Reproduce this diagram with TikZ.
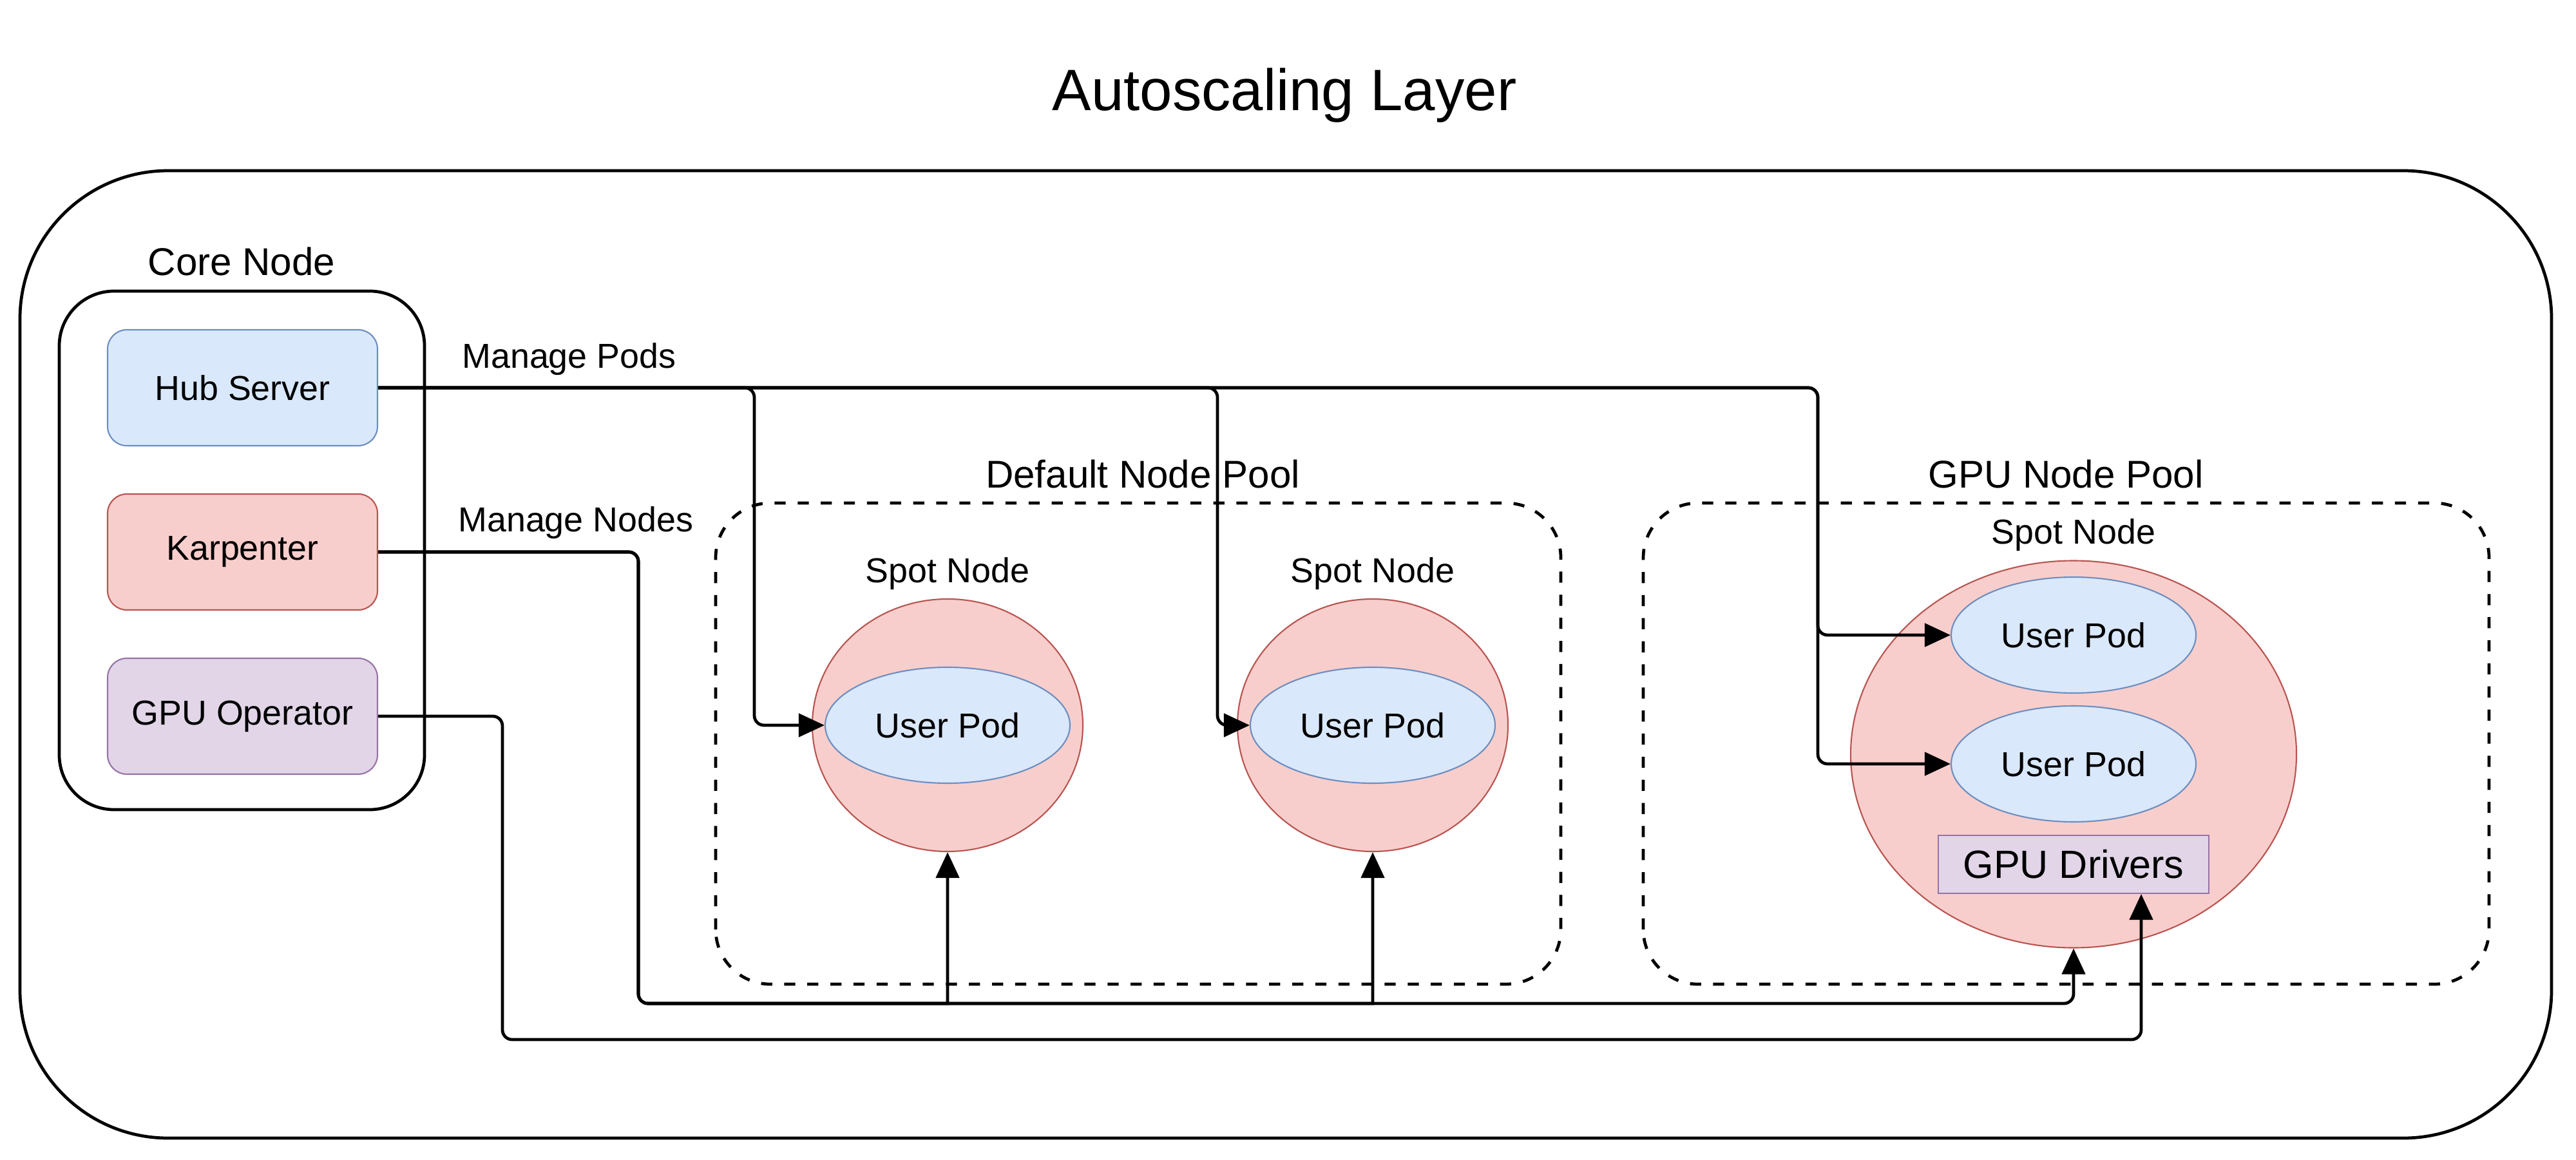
\documentclass[tikz,border=0pt]{standalone}
\usepackage{fontspec}
\setmainfont{Liberation Sans}
\usetikzlibrary{shapes.geometric,arrows.meta}

\definecolor{podfill}{HTML}{DAE8FC}
\definecolor{podline}{HTML}{6C8EBF}
\definecolor{spotfill}{HTML}{F8CECC}
\definecolor{spotline}{HTML}{B85450}
\definecolor{gpufill}{HTML}{E1D5E7}
\definecolor{gpuline}{HTML}{9673A6}

\begin{document}
\begin{tikzpicture}[
    >={Triangle[length=0.4cm,width=0.36cm]},
    every node/.style={font=\fontsize{15.3}{18}\selectfont},
    biglbl/.style={font=\fontsize{17.1}{20}\selectfont},
    comp/.style={draw, rounded corners=0.3cm, line width=0.6pt, minimum width=4.19cm, minimum height=1.8cm},
    spot/.style={ellipse, draw=spotline, fill=spotfill, line width=0.6pt, inner sep=0pt},
    pod/.style={ellipse, draw=podline, fill=podfill, line width=0.6pt, inner sep=0pt, minimum width=3.8cm, minimum height=1.8cm},
    pool/.style={draw, dash pattern=on 4.9pt off 5.3pt, line width=1.35pt, rounded corners=0.85cm},
    link/.style={->, line width=1.35pt, rounded corners=0.15cm}
  ]
    \useasboundingbox (0,0) rectangle (39.99,18);

    % Title and outer frame
    \node (title) at (19.94,16.52) {\fontsize{25.8}{30}\selectfont Autoscaling Layer};
    \draw[line width=1.35pt, rounded corners=2.3cm] (0.31,0.33) rectangle (39.61,15.35);

    % Core Node
    \node[biglbl] (corelbl) at (3.75,13.94) {Core Node};
    \draw[line width=1.35pt, rounded corners=0.85cm] (0.92,5.43) rectangle (6.59,13.48);
    \node[comp, draw=podline, fill=podfill] (hub) at (3.765,11.98) {Hub Server};
    \node[comp, draw=spotline, fill=spotfill] (karp) at (3.765,9.43) {Karpenter};
    \node[comp, draw=gpuline, fill=gpufill] (gpuop) at (3.765,6.88) {GPU Operator};

    % Default Node Pool
    \node[biglbl] (defaultlbl) at (17.74,10.64) {Default Node Pool};
    \draw[pool] (11.11,2.72) rectangle (24.23,10.19);
    \node (spotlbl1) at (14.71,9.09) {Spot Node};
    \node[spot, minimum width=4.2cm, minimum height=3.92cm] (spot1) at (14.71,6.74) {};
    \node[pod] (pod1) at (14.71,6.74) {User Pod};
    \node (spotlbl2) at (21.31,9.09) {Spot Node};
    \node[spot, minimum width=4.2cm, minimum height=3.92cm] (spot2) at (21.31,6.74) {};
    \node[pod] (pod2) at (21.31,6.74) {User Pod};

    % GPU Node Pool
    \node[biglbl] (gpulbl) at (32.07,10.64) {GPU Node Pool};
    \draw[pool] (25.51,2.72) rectangle (38.64,10.19);
    \node (spotlbl3) at (32.19,9.69) {Spot Node};
    \node[spot, minimum width=6.92cm, minimum height=6.01cm] (spot3) at (32.19,6.29) {};
    \node[pod] (pod3) at (32.19,8.14) {User Pod};
    \node[pod] (pod4) at (32.19,6.14) {User Pod};
    \node[draw=gpuline, fill=gpufill, line width=0.6pt, minimum width=4.2cm, minimum height=0.9cm,
          font=\fontsize{17.4}{20}\selectfont] (drivers) at (32.19,4.58) {GPU Drivers};

    % Manage Pods
    \node[anchor=west] (podslbl) at (7.05,12.42) {Manage Pods};
    \draw[link] (hub.east) -| (11.71,9) |- (pod1.west);
    \draw[link] (hub.east) -| (18.90,9) |- (pod2.west);
    \draw[link] (hub.east) -| (28.22,9) |- (pod3.west);
    \draw[link] (hub.east) -| (28.22,9) |- (pod4.west);

    % Manage Nodes
    \node[anchor=west] (nodeslbl) at (6.99,9.88) {Manage Nodes};
    \draw[link] (karp.east) -| (9.91,2.42) [sharp corners] -| (spot1.south);
    \draw[link] (karp.east) -| (9.91,2.42) [sharp corners] -| (spot2.south);
    \draw[link] (karp.east) -| (9.91,2.42) -| (spot3.south);

    % GPU drivers
    \draw[link] (gpuop.east) -| (7.80,1.86) -| ([xshift=1.05cm]drivers.south);
\end{tikzpicture}
\end{document}
